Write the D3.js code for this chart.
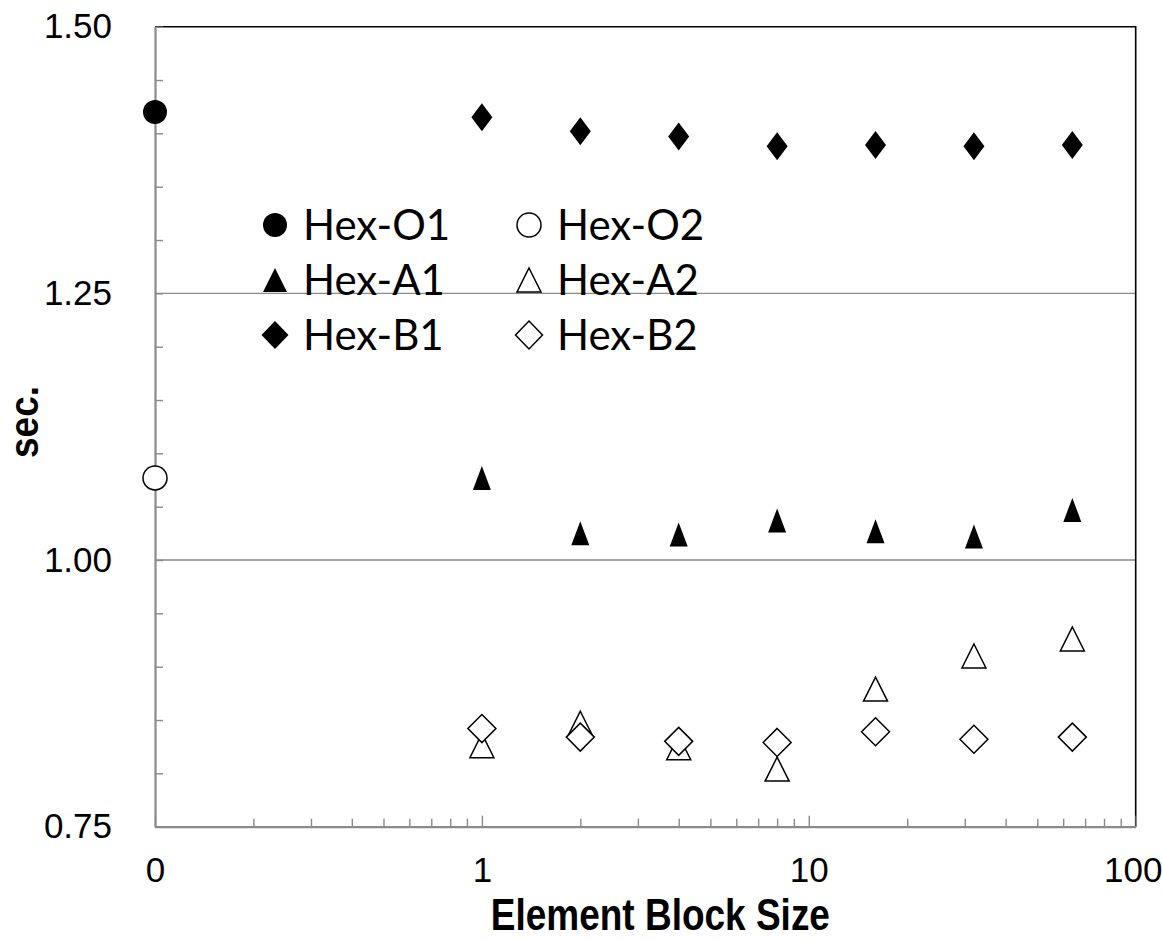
<!DOCTYPE html>
<html>
<head>
<meta charset="utf-8">
<script src="https://cdn.jsdelivr.net/npm/d3@7"></script>
<style>
  body { margin: 0; background: #fff; }
</style>
</head>
<body>
<div id="chart"></div>
<script>
// block sizes on the log axis; the "0" case is drawn at 0.1
var blockSizes = [1, 2, 4, 8, 16, 32, 64];
var zeroBlock = [0.1];

var hexO1 = [1.420];
var hexO2 = [1.077];
var hexA1 = [1.077, 1.025, 1.024, 1.037, 1.027, 1.022, 1.047];
var hexA2 = [0.826, 0.847, 0.824, 0.804, 0.879, 0.910, 0.926];
var hexB1 = [1.415, 1.402, 1.397, 1.388, 1.389, 1.388, 1.389];
var hexB2 = [0.842, 0.834, 0.830, 0.829, 0.839, 0.832, 0.834];

var xTickValues = [0.1, 1, 10, 100];
var xTickLabels = ["0", "1", "10", "100"];
var yTickValues = [0.75, 1.00, 1.25, 1.50];
var yTickLabels = ["0.75", "1.00", "1.25", "1.50"];

var svgWidth = 1162;
var svgHeight = 941;
var margin = { top: 26.7, right: 26.3, bottom: 114.3, left: 155 };
var width = svgWidth - margin.left - margin.right;
var height = svgHeight - margin.top - margin.bottom;

var svg = d3.select("#chart")
  .append("svg")
  .attr("width", svgWidth)
  .attr("height", svgHeight);

var chartGroup = svg.append("g")
  .attr("transform", `translate(${margin.left}, ${margin.top})`);

var xScale = d3.scaleLog().domain([0.1, 100]).range([0, width]);
var yScale = d3.scaleLinear().domain([0.75, 1.5]).range([height, 0]);

var axisGray = "#8a8a8a";
var tickFont = "'Liberation Sans', Arial, sans-serif";

// gridlines at major y values (not the bottom / top)
chartGroup.selectAll(".grid")
  .data(yTickValues.slice(1, 3))
  .enter()
  .append("line")
  .attr("x1", 0)
  .attr("x2", width)
  .attr("y1", d => yScale(d))
  .attr("y2", d => yScale(d))
  .attr("stroke", axisGray)
  .attr("stroke-width", 1.4);

// top and right border
chartGroup.append("path")
  .attr("d", `M0,0H${width}V${height}`)
  .attr("fill", "none")
  .attr("stroke", "#000")
  .attr("stroke-width", 1.6);

// y axis: minor ticks every 0.05, labels on the 0.25 steps
var yMinor = d3.range(0.75, 1.5001, 0.05).map(v => Math.round(v * 100) / 100);
var leftAxis = d3.axisLeft(yScale)
  .tickValues(yMinor)
  .tickSizeInner(-8)
  .tickSizeOuter(0)
  .tickPadding(43)
  .tickFormat(function(d) {
    var i = yTickValues.findIndex(v => Math.abs(v - d) < 1e-6);
    return i >= 0 ? yTickLabels[i] : "";
  });

var yAxisG = chartGroup.append("g").call(leftAxis);

// x axis: log minor ticks, labels at the decades
var xMinor = [];
[0.1, 1, 10].forEach(function(dec) {
  for (var k = 1; k <= 9; k++) xMinor.push(dec * k);
});
xMinor.push(100);
var bottomAxis = d3.axisBottom(xScale)
  .tickValues(xMinor)
  .tickSizeInner(-8)
  .tickSizeOuter(0)
  .tickPadding(30)
  .tickFormat(function(d) {
    var i = xTickValues.findIndex(v => Math.abs(v - d) < 1e-9);
    return i >= 0 ? xTickLabels[i] : "";
  });

var xAxisG = chartGroup.append("g")
  .attr("transform", `translate(0, ${height})`)
  .call(bottomAxis);

[yAxisG, xAxisG].forEach(function(g) {
  g.select(".domain").attr("stroke", axisGray).attr("stroke-width", 2.2);
  g.selectAll(".tick line").attr("stroke", axisGray).attr("stroke-width", 1.4);
  g.selectAll(".tick text")
    .attr("fill", "#000")
    .style("font-family", tickFont)
    .style("font-size", "35px");
});
// decade ticks on x are a little longer
xAxisG.selectAll(".tick line")
  .filter(d => xTickValues.some(v => Math.abs(v - d) < 1e-9))
  .attr("y2", -11);
// the last label is pulled in so it stays inside the picture
xAxisG.selectAll(".tick text")
  .filter(d => Math.abs(d - 100) < 1e-9)
  .attr("dx", -3);

// axis titles (the source font is a tall, narrow bold)
svg.append("text")
  .attr("transform", `translate(${margin.left + width / 2 + 15}, 930) scale(1, 1.18)`)
  .attr("text-anchor", "middle")
  .style("font-family", tickFont)
  .style("font-weight", "bold")
  .style("font-size", "37px")
  .text("Element Block Size");

svg.append("text")
  .attr("transform", "translate(38, 422) rotate(-90) scale(1, 1.12)")
  .attr("text-anchor", "middle")
  .style("font-family", tickFont)
  .style("font-weight", "bold")
  .style("font-size", "37px")
  .text("sec.");

// marker shapes centred on (0,0)
function markerPath(shape, w, h) {
  var p = d3.path();
  if (shape === "circle") {
    p.moveTo(w / 2, 0);
    p.arc(0, 0, w / 2, 0, 2 * Math.PI);
  } else if (shape === "triangle") {
    p.moveTo(0, -h / 2);
    p.lineTo(w / 2, h / 2);
    p.lineTo(-w / 2, h / 2);
  } else {
    p.moveTo(0, -h / 2);
    p.lineTo(w / 2, 0);
    p.lineTo(0, h / 2);
    p.lineTo(-w / 2, 0);
  }
  p.closePath();
  return p.toString();
}

var series = [
  { name: "Hex-O1", xs: zeroBlock, ys: hexO1, shape: "circle", filled: true, w: 24, h: 24 },
  { name: "Hex-O2", xs: zeroBlock, ys: hexO2, shape: "circle", filled: false, w: 24, h: 24 },
  { name: "Hex-A1", xs: blockSizes, ys: hexA1, shape: "triangle", filled: true, w: 18, h: 24 },
  { name: "Hex-A2", xs: blockSizes, ys: hexA2, shape: "triangle", filled: false, w: 24, h: 24 },
  { name: "Hex-B1", xs: blockSizes, ys: hexB1, shape: "diamond", filled: true, w: 21, h: 28 },
  { name: "Hex-B2", xs: blockSizes, ys: hexB2, shape: "diamond", filled: false, w: 28, h: 28 }
];

series.forEach(function(s) {
  chartGroup.append("g")
    .selectAll("path")
    .data(s.ys.map((y, i) => ({ x: s.xs[i], y: y })))
    .enter()
    .append("path")
    .attr("d", markerPath(s.shape, s.w, s.h))
    .attr("transform", d => `translate(${xScale(d.x)}, ${yScale(d.y)})`)
    .attr("fill", s.filled ? "#000" : "#fff")
    .attr("stroke", "#000")
    .attr("stroke-width", s.filled ? 0 : 1.5);
});

// legend: two columns, three rows
var legendSizes = { circle: [24, 24], triangle: [24, 24], diamond: [27, 28] };
var legend = svg.append("g").attr("transform", "translate(275, 225)");
var legendItems = legend.selectAll("g")
  .data(series)
  .enter()
  .append("g")
  .attr("transform", (d, i) => `translate(${(i % 2) * 254}, ${Math.floor(i / 2) * 55})`);

legendItems.append("path")
  .attr("d", d => markerPath(d.shape, legendSizes[d.shape][0], legendSizes[d.shape][1]))
  .attr("fill", d => d.filled ? "#000" : "#fff")
  .attr("stroke", "#000")
  .attr("stroke-width", d => d.filled ? 0 : 1.5);

legendItems.append("text")
  .attr("x", 28)
  .attr("y", 14.5)
  .style("font-family", "Lato, 'Open Sans', sans-serif")
  .style("font-size", "42px")
  .text(d => d.name);
</script>
</body>
</html>
